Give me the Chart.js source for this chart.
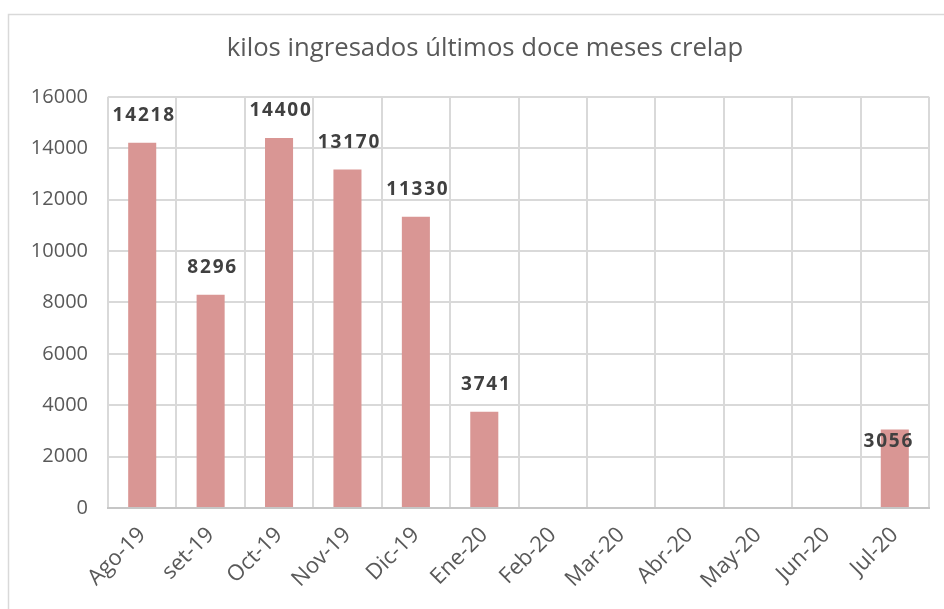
<!DOCTYPE html>
<html lang="es">
<head>
    <meta charset="UTF-8">
    <title>kilos ingresados últimos doce meses crelap</title>
    <script src="https://cdn.jsdelivr.net/npm/chart.js"></script>
    <style>
        html, body { margin: 0; padding: 0; background: #fff; }
        #wrap { width: 944px; height: 609px; position: relative; }
    </style>
</head>
<body>
    <div id="wrap"><canvas id="chart" width="944" height="609"></canvas></div>
    <script>
        // datos del grafico
        const meses = ['Ago-19', 'set-19', 'Oct-19', 'Nov-19', 'Dic-19', 'Ene-20',
                       'Feb-20', 'Mar-20', 'Abr-20', 'May-20', 'Jun-20', 'Jul-20'];
        const kilos = [14218, 8296, 14400, 13170, 11330, 3741, 0, 0, 0, 0, 0, 3056];
        const yTicks = [0, 2000, 4000, 6000, 8000, 10000, 12000, 14000, 16000];

        const fontFam = '"Open Sans", "Liberation Sans", sans-serif';
        const gris = '#595959';

        // marco del area del grafico
        const marco = {
            id: 'marco',
            beforeDraw(chart) {
                const ctx = chart.ctx;
                ctx.save();
                ctx.strokeStyle = '#d9d9d9';
                ctx.lineWidth = 1.5;
                ctx.beginPath();
                ctx.moveTo(8.5, 609);
                ctx.lineTo(8.5, 14.5);
                ctx.lineTo(944, 14.5);
                ctx.stroke();
                ctx.restore();
            }
        };

        // etiquetas de valor
        const etiquetas = {
            id: 'etiquetas',
            afterDatasetsDraw(chart) {
                const ctx = chart.ctx;
                const meta = chart.getDatasetMeta(0);
                ctx.save();
                ctx.font = 'bold 19px ' + fontFam;
                ctx.letterSpacing = '1.8px';
                ctx.fillStyle = '#404040';
                ctx.textAlign = 'center';
                ctx.textBaseline = 'middle';
                meta.data.forEach((bar, i) => {
                    const v = kilos[i];
                    if (!v) return;
                    const dentro = i === kilos.length - 1;
                    const y = dentro ? bar.y + 12 : bar.y - 27;
                    const x = dentro ? bar.x - 6 : bar.x + 2;
                    ctx.fillText(String(v), x, y);
                });
                ctx.restore();
            }
        };

        new Chart(document.getElementById('chart'), {
            type: 'bar',
            data: {
                labels: meses,
                datasets: [{
                    data: kilos,
                    backgroundColor: '#d99694',
                    borderWidth: 0,
                    barPercentage: 0.41,
                    categoryPercentage: 1
                }]
            },
            options: {
                responsive: false,
                animation: false,
                layout: { padding: { left: 26, right: 0, top: 0, bottom: 0 } },
                plugins: {
                    legend: { display: false },
                    tooltip: { enabled: false },
                    title: {
                        display: true,
                        text: 'kilos ingresados últimos doce meses crelap',
                        color: gris,
                        font: { family: fontFam, size: 25.7, weight: 'normal' },
                        padding: { top: 33, bottom: 33 }
                    }
                },
                scales: {
                    x: {
                        grid: { color: '#d9d9d9', lineWidth: 2, drawTicks: false, offset: true },
                        border: { color: '#c6c6c6', width: 2 },
                        ticks: {
                            color: gris,
                            font: { family: fontFam, size: 22 },
                            minRotation: 45,
                            maxRotation: 45,
                            padding: 14
                        },
                        afterFit(scale) { scale.height = 101; }
                    },
                    y: {
                        min: 0,
                        max: 16000,
                        grid: { color: '#d9d9d9', lineWidth: 2, drawTicks: false },
                        border: { display: false },
                        afterBuildTicks(scale) { scale.ticks = yTicks.map(v => ({ value: v })); },
                        ticks: {
                            color: gris,
                            font: { family: fontFam, size: 20 },
                            padding: 20,
                            callback: v => String(v)
                        },
                        afterFit(scale) { scale.width = 82; }
                    },
                    // eje vacio a la derecha, solo reserva espacio
                    y2: {
                        type: 'linear',
                        position: 'right',
                        grid: { display: false },
                        border: { display: false },
                        ticks: { display: false },
                        afterFit(scale) { scale.width = 15; }
                    }
                }
            },
            plugins: [marco, etiquetas]
        });
    </script>
</body>
</html>
